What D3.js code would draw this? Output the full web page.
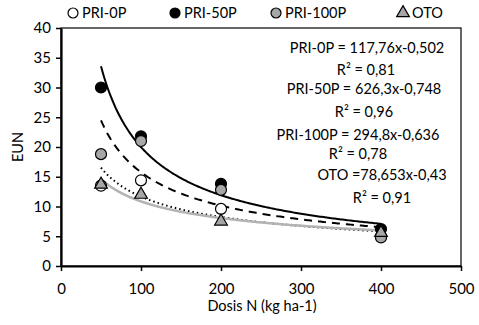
<!DOCTYPE html>
<html>
<head>
<meta charset="utf-8">
<script src="https://cdn.jsdelivr.net/npm/d3@7"></script>
<style>
  body { margin: 0; background: #fff; }
  svg text { font-family: Lato, "Open Sans", sans-serif; fill: #000; }
</style>
</head>
<body>
<div id="chart"></div>
<script>
const doses = [50, 100, 200, 400];
const pri0 = [13.5, 14.4, 9.6, 5.0];
const pri50 = [30, 21.8, 13.8, 6.2];
const pri100 = [18.8, 21, 12.8, 4.8];
const oto = [13.7, 12, 7.5, 5.6];

const xTicks = [0, 100, 200, 300, 400, 500];
const yTicks = [0, 5, 10, 15, 20, 25, 30, 35, 40];

// power fits a*x^b
const fits = [
  {name: "PRI-0P", a: 117.76, b: -0.502, dash: "1.5,3", color: "#000", lw: 2},
  {name: "PRI-50P", a: 626.3, b: -0.748, dash: null, color: "#000", lw: 2},
  {name: "PRI-100P", a: 294.8, b: -0.636, dash: "8,6", color: "#000", lw: 2},
  {name: "OTO", a: 78.653, b: -0.43, dash: null, color: "#b3b3b3", lw: 2.5}
];
const eqLabels = ["PRI-0P = 117,76x-0,502", "R² = 0,81", "PRI-50P = 626,3x-0,748", "R² = 0,96",
                  "PRI-100P = 294,8x-0,636", "R² = 0,78", "OTO =78,653x-0,43", "R² = 0,91"];

const w = 479, h = 325;
const m = {l: 61, r: 18, t: 28, b: 59};

const svg = d3.select("#chart").append("svg").attr("width", w).attr("height", h);

const x = d3.scaleLinear().domain([0, 500]).range([m.l, w - m.r]);
const y = d3.scaleLinear().domain([0, 40]).range([h - m.b, m.t]);

// frame
svg.append("rect")
   .attr("x", x(0)).attr("y", y(40))
   .attr("width", x(500) - x(0)).attr("height", y(0) - y(40))
   .attr("fill", "none").attr("stroke", "#000").attr("stroke-width", 1.2);

const xAxis = svg.append("g")
   .attr("transform", "translate(0," + y(0) + ")")
   .call(d3.axisBottom(x).tickValues(xTicks).tickSize(5).tickPadding(12).tickSizeOuter(0));
const yAxis = svg.append("g")
   .attr("transform", "translate(" + x(0) + ",0)")
   .call(d3.axisLeft(y).tickValues(yTicks).tickSize(5).tickPadding(5).tickSizeOuter(0));
[xAxis, yAxis].forEach(function(g) {
  g.select(".domain").attr("stroke-width", 2.2);
  g.selectAll(".tick line").attr("stroke-width", 1.5);
  g.selectAll("text").style("font-size", "15px").attr("font-family", null);
});

// fitted curves
const xs = d3.range(50, 401, 2);
fits.forEach(function(f) {
  const line = d3.line().x(function(d) { return x(d); })
                        .y(function(d) { return y(f.a * Math.pow(d, f.b)); });
  svg.append("path").datum(xs)
     .attr("d", line)
     .attr("fill", "none")
     .attr("stroke", f.color)
     .attr("stroke-width", f.lw)
     .attr("stroke-dasharray", f.dash);
});

// markers
function circles(vals, fill) {
  svg.append("g").selectAll("circle").data(vals).enter().append("circle")
     .attr("cx", function(d, i) { return x(doses[i]); })
     .attr("cy", function(d) { return y(d); })
     .attr("r", 5.5)
     .attr("fill", fill).attr("stroke", "#000").attr("stroke-width", 1.2);
}
circles(pri0, "#fff");
circles(pri50, "#000");
circles(pri100, "#a6a6a6");
const tri = d3.symbol().type(d3.symbolTriangle).size(70);
svg.append("g").selectAll("path").data(oto).enter().append("path")
   .attr("d", tri)
   .attr("transform", function(d, i) { return "translate(" + x(doses[i]) + "," + y(d) + ")"; })
   .attr("fill", "#a6a6a6").attr("stroke", "#000").attr("stroke-width", 1.2);

// equations
const eqX = [367, 366, 364, 364, 358, 358, 382, 382];
const eqY = [48, 70, 89, 112, 135, 154, 175, 198];
svg.append("g").selectAll("text").data(eqLabels).enter().append("text")
   .attr("x", function(d, i) { return eqX[i]; })
   .attr("y", function(d, i) { return eqY[i]; })
   .attr("dy", "0.35em")
   .attr("text-anchor", "middle")
   .style("font-size", "14.5px")
   .text(function(d) { return d; });

// legend
const leg = svg.append("g");
const legX = [73, 175, 276, 403];
const legFill = ["#fff", "#000", "#a6a6a6", "#a6a6a6"];
fits.forEach(function(f, i) {
  if (i < 3) {
    leg.append("circle").attr("cx", legX[i]).attr("cy", 13).attr("r", 5)
       .attr("fill", legFill[i]).attr("stroke", "#000").attr("stroke-width", 1.2);
  } else {
    leg.append("path").attr("d", tri).attr("transform", "translate(" + legX[i] + ",13)")
       .attr("fill", legFill[i]).attr("stroke", "#000").attr("stroke-width", 1.2);
  }
  leg.append("text").attr("x", legX[i] + 9).attr("y", 13).attr("dy", "0.35em")
     .style("font-size", "14.5px").text(f.name);
});

// axis titles
svg.append("text").attr("x", 262).attr("y", 311).attr("text-anchor", "middle")
   .style("font-size", "14.5px").text("Dosis N (kg ha-1)");
svg.append("text").attr("transform", "translate(18,147) rotate(-90)")
   .attr("text-anchor", "middle").attr("dy", "0.35em")
   .style("font-size", "14.5px").text("EUN");
</script>
</body>
</html>
